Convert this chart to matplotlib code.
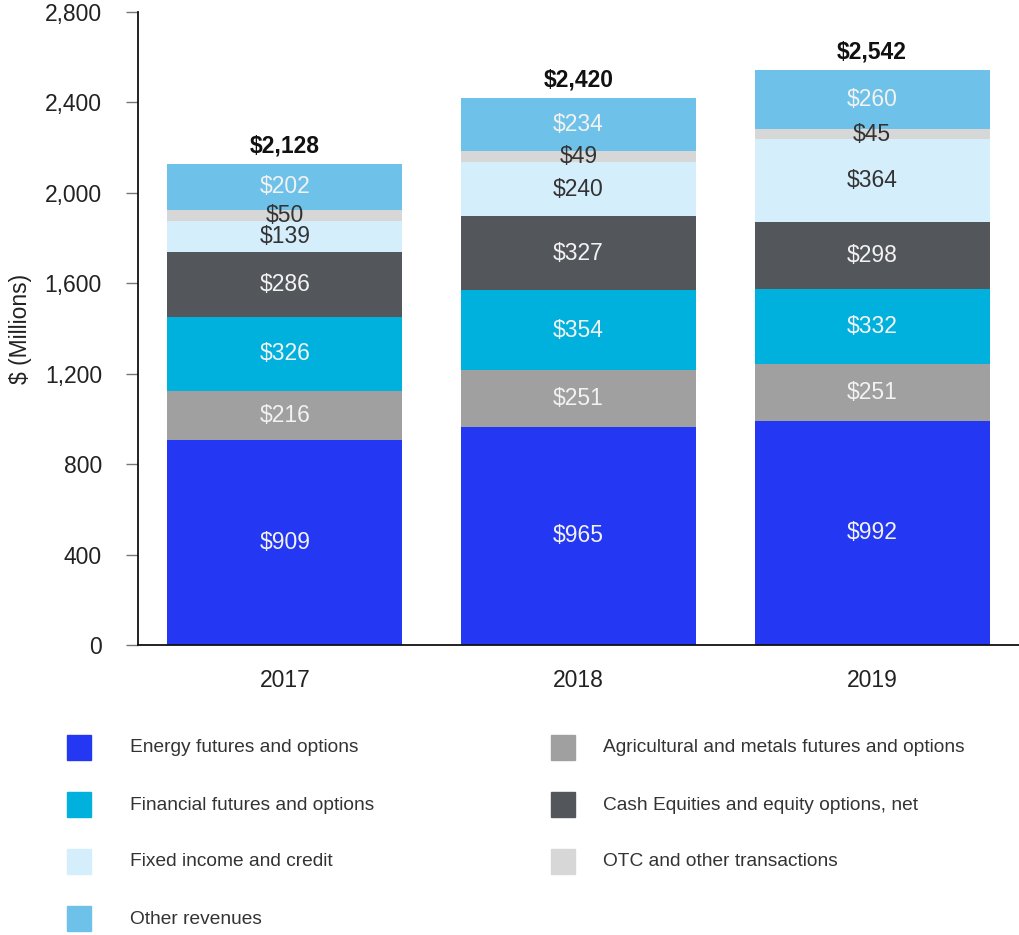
import matplotlib
matplotlib.use("Agg")
import matplotlib.pyplot as plt
from matplotlib.patches import Rectangle

plt.rcParams['font.family'] = ['Liberation Sans', 'DejaVu Sans']

years = ["2017", "2018", "2019"]
energy = [909, 965, 992]
agri = [216, 251, 251]
financial = [326, 354, 332]
cash_eq = [286, 327, 298]
fixed_inc = [139, 240, 364]
otc = [50, 49, 45]
other = [202, 234, 260]
totals = [2128, 2420, 2542]

series_names = ["Energy futures and options", "Agricultural and metals futures and options",
                "Financial futures and options", "Cash Equities and equity options, net",
                "Fixed income and credit", "OTC and other transactions", "Other revenues"]
series = [energy, agri, financial, cash_eq, fixed_inc, otc, other]
colors = ["#2438F4", "#A0A0A0", "#00B1DD", "#53575B", "#D5EEFB", "#D7D7D7", "#6EC1E8"]
label_colors = ["#F2F2F2", "#F2F2F2", "#F2F2F2", "#F2F2F2", "#333333", "#333333", "#F2F2F2"]

fig = plt.figure(figsize=(10.19, 9.35), dpi=100)
ax = fig.add_axes([138/1019, 1 - 645/935, (1019-138)/1019, 633/935])

x = list(range(len(years)))
bottoms = [0]*len(years)
for vals, col, lc in zip(series, colors, label_colors):
    ax.bar(x, vals, bottom=bottoms, width=0.8, color=col, edgecolor='none')
    for i, v in enumerate(vals):
        ax.text(x[i], bottoms[i] + v/2, f"${v}", ha='center', va='center',
                color=lc, fontsize=16.5)
    bottoms = [b + v for b, v in zip(bottoms, vals)]

for i, t in enumerate(totals):
    ax.text(x[i], t + 28, f"${t:,}", ha='center', va='bottom', fontsize=16.5,
            fontweight='bold', color='#111111')

ax.set_xlim(-0.5, 2.5)
ax.set_ylim(0, 2800)
ax.set_yticks(range(0, 2801, 400))
ax.set_yticklabels([f"{v:,}" for v in range(0, 2801, 400)])
ax.set_xticks(x)
ax.set_xticklabels(years)
ax.tick_params(axis='x', length=0, pad=17, labelsize=16.5, colors='#222222')
ax.tick_params(axis='y', length=9, width=1, direction='out', labelsize=16.5,
               pad=17, color='#777777', labelcolor='#222222')
for s in ['top', 'right']:
    ax.spines[s].set_visible(False)
for s in ['left', 'bottom']:
    ax.spines[s].set_color('#111111')
    ax.spines[s].set_linewidth(1.3)
ax.set_ylabel("$ (Millions)", fontsize=16.5, color='#222222', labelpad=9)

# Legend (manual grid)
rows_y = [748, 805, 862, 919]
col_sq_x = [67, 551]
col_txt_x = [130, 603]
for k in range(len(series_names)):
    r, c = divmod(k, 2)
    yc = rows_y[r]
    sq = Rectangle((col_sq_x[c]/1019, 1 - (yc+12)/935), 24/1019, 25/935,
                   transform=fig.transFigure, color=colors[k], clip_on=False)
    fig.patches.append(sq)
    fig.text(col_txt_x[c]/1019, 1 - yc/935, series_names[k], ha='left', va='center',
             fontsize=13.8, color='#333333')

fig.savefig("out.png", dpi=100)
